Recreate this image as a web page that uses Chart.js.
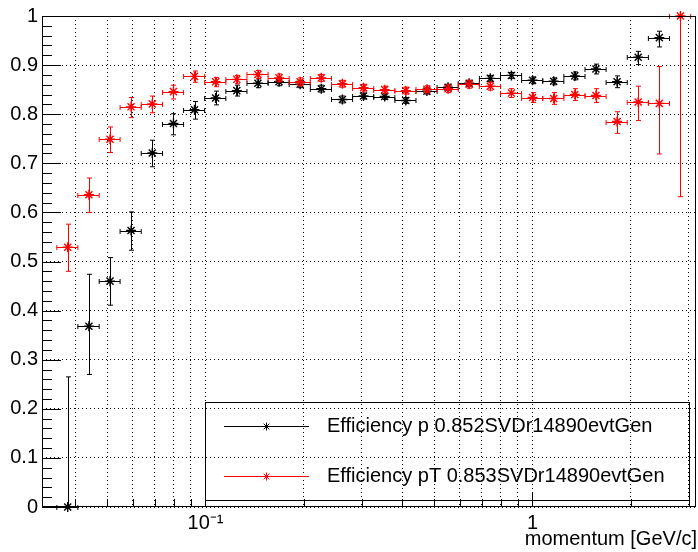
<!DOCTYPE html>
<html>
<head>
<meta charset="utf-8">
<script src="https://cdn.jsdelivr.net/npm/chart.js@4"></script>
<style>
  html, body { margin: 0; padding: 0; background: #fff; }
  canvas { display: block; }
</style>
</head>
<body>
<canvas id="effChart" width="698" height="552"></canvas>
<script>
// bin edges in momentum [GeV/c] (log binning, 30 bins)
const binEdges = [0.0351, 0.0407, 0.0473, 0.0548, 0.0636, 0.0739, 0.0857, 0.0994, 0.1154, 0.1339,
  0.1554, 0.1803, 0.2092, 0.2428, 0.2817, 0.3269, 0.3794, 0.4402, 0.5108, 0.5928,
  0.6879, 0.7982, 0.9262, 1.0748, 1.2472, 1.4473, 1.6794, 1.9488, 2.2614, 2.6241, 3.0450];

// efficiency vs p
const effP = [0.000, 0.368, 0.460, 0.563, 0.721, 0.781, 0.809, 0.833, 0.848, 0.863,
  0.866, 0.861, 0.852, 0.830, 0.837, 0.836, 0.828, 0.847, 0.855, 0.863,
  0.873, 0.879, 0.869, 0.867, 0.878, 0.892, 0.866, 0.916, 0.956, null];
const effPErrLow = [0.000, 0.098, 0.049, 0.040, 0.028, 0.023, 0.019, 0.014, 0.011, 0.009,
  0.008, 0.007, 0.007, 0.007, 0.006, 0.006, 0.006, 0.006, 0.006, 0.006,
  0.006, 0.006, 0.007, 0.007, 0.008, 0.010, 0.012, 0.015, 0.019, null];
const effPErrHigh = [0.265, 0.106, 0.048, 0.038, 0.026, 0.020, 0.017, 0.014, 0.011, 0.009,
  0.008, 0.007, 0.007, 0.007, 0.006, 0.006, 0.006, 0.006, 0.006, 0.006,
  0.006, 0.006, 0.007, 0.007, 0.008, 0.010, 0.012, 0.012, 0.013, null];

// efficiency vs pT
const effPt = [0.529, 0.636, 0.749, 0.815, 0.821, 0.846, 0.877, 0.866, 0.871, 0.881,
  0.874, 0.866, 0.874, 0.862, 0.854, 0.850, 0.848, 0.851, 0.852, 0.861,
  0.857, 0.843, 0.834, 0.832, 0.840, 0.838, 0.785, 0.825, 0.822, 1.000];
const effPtErrLow = [0.049, 0.036, 0.027, 0.022, 0.018, 0.015, 0.012, 0.010, 0.009, 0.008,
  0.008, 0.008, 0.007, 0.007, 0.007, 0.007, 0.007, 0.007, 0.008, 0.008,
  0.008, 0.009, 0.010, 0.012, 0.012, 0.014, 0.024, 0.038, 0.103, 0.368];
const effPtErrHigh = [0.047, 0.034, 0.025, 0.019, 0.016, 0.013, 0.011, 0.009, 0.008, 0.008,
  0.008, 0.008, 0.007, 0.007, 0.007, 0.007, 0.007, 0.007, 0.008, 0.008,
  0.008, 0.009, 0.010, 0.012, 0.012, 0.014, 0.020, 0.032, 0.075, 0.000];

const xTickValues = [0.04, 0.05, 0.06, 0.07, 0.08, 0.09, 0.1, 0.2, 0.3, 0.4, 0.5, 0.6, 0.7, 0.8, 0.9, 1, 2, 3];
const xTickLabels = { 0.1: '10\u207B\u00B9', 1: '1' };
const yTickValues = [0, 0.1, 0.2, 0.3, 0.4, 0.5, 0.6, 0.7, 0.8, 0.9, 1];

const xTitle = 'momentum [GeV/c]';
const labelP = 'Efficiency p 0.852SVDr14890evtGen';
const labelPt = 'Efficiency pT 0.853SVDr14890evtGen';

const FONT = "'Liberation Sans', Arial, Helvetica, sans-serif";

function makePoints(vals, lo, hi) {
  const pts = [];
  vals.forEach((v, i) => {
    if (v === null) return;
    const a = binEdges[i], b = binEdges[i + 1];
    pts.push({ x: (a + b) / 2, y: v, xlo: a, xhi: b, el: lo[i], eh: hi[i] });
  });
  return pts;
}

// error bars (drawn just before each dataset's markers) + ROOT style frame, ticks, legend
const rootStyle = {
  id: 'rootStyle',
  beforeDatasetDraw(chart, args) {
    const ds = chart.data.datasets[args.index];
    const xs = chart.scales.x, ys = chart.scales.y;
    const ctx = chart.ctx;
    const cap = 2.5;
    ctx.save();
    ctx.strokeStyle = ds.borderColor;
    ctx.lineWidth = 1;
    ds.data.forEach(p => {
      const px = Math.round(xs.getPixelForValue(p.x)) + 0.5;
      const py = Math.round(ys.getPixelForValue(p.y)) + 0.5;
      const x1 = xs.getPixelForValue(p.xlo), x2 = xs.getPixelForValue(p.xhi);
      const y1 = ys.getPixelForValue(p.y - p.el), y2 = ys.getPixelForValue(p.y + p.eh);
      ctx.beginPath();
      ctx.moveTo(x1, py); ctx.lineTo(x2, py);
      ctx.moveTo(x1, py - cap); ctx.lineTo(x1, py + cap);
      ctx.moveTo(x2, py - cap); ctx.lineTo(x2, py + cap);
      if (p.el > 0 || p.eh > 0) {
        ctx.moveTo(px, y1); ctx.lineTo(px, y2);
        if (p.el > 0) { ctx.moveTo(px - cap, y1); ctx.lineTo(px + cap, y1); }
        if (p.eh > 0) { ctx.moveTo(px - cap, y2); ctx.lineTo(px + cap, y2); }
      }
      ctx.stroke();
    });
    ctx.restore();
  },
  afterDraw(chart) {
    const ctx = chart.ctx;
    const a = chart.chartArea;
    const xs = chart.scales.x, ys = chart.scales.y;
    ctx.save();
    ctx.strokeStyle = '#000';
    ctx.lineWidth = 1;
    // frame
    ctx.strokeRect(a.left + 0.5, a.top + 0.5, a.right - a.left - 1, a.bottom - a.top - 1);
    // y ticks (inside): majors every 0.1, minors every 0.02
    ctx.beginPath();
    for (let k = 0; k <= 50; k++) {
      const y = Math.round(ys.getPixelForValue(k / 50)) + 0.5;
      const len = k % 5 === 0 ? 19 : 10;
      ctx.moveTo(a.left, y); ctx.lineTo(a.left + len, y);
    }
    // x ticks (inside)
    xTickValues.forEach(v => {
      const x = Math.round(xs.getPixelForValue(v)) + 0.5;
      const len = (v === 0.1 || v === 1) ? 15 : 8;
      ctx.moveTo(x, a.bottom); ctx.lineTo(x, a.bottom - len);
    });
    ctx.stroke();

    // x axis title, right aligned under the frame
    ctx.fillStyle = '#000';
    ctx.font = '20px ' + FONT;
    ctx.textAlign = 'right';
    ctx.textBaseline = 'middle';
    ctx.fillText(xTitle, a.right + 1, 539);

    // legend (transparent box)
    const lx1 = 224, lx2 = 309, mx = 266.5, tx = 327;
    ctx.strokeRect(205.5, 402.5, 484, 98);
    const rows = [
      { ds: chart.data.datasets[1], y: 426.5 },
      { ds: chart.data.datasets[0], y: 476.5 }
    ];
    rows.forEach(r => {
      ctx.strokeStyle = r.ds.borderColor;
      ctx.beginPath();
      ctx.moveTo(lx1, r.y); ctx.lineTo(lx2, r.y);
      ctx.stroke();
      Chart.helpers.drawPoint(ctx, { pointStyle: 'star', radius: 4, borderWidth: 1 }, mx, r.y);
      ctx.fillStyle = '#000';
      ctx.font = '20px ' + FONT;
      ctx.textBaseline = 'middle';
      ctx.textAlign = 'left';
      ctx.fillText(r.ds.label, tx, r.y);
    });
    ctx.restore();
  }
};

const ctx = document.getElementById('effChart').getContext('2d');
const effChart = new Chart(ctx, {
  type: 'scatter',
  data: {
    datasets: [
      {
        label: labelPt,
        data: makePoints(effPt, effPtErrLow, effPtErrHigh),
        borderColor: 'rgb(255,0,0)',
        backgroundColor: 'rgb(255,0,0)',
        pointStyle: 'star',
        pointRadius: 5,
        pointBorderWidth: 1.4,
        clip: false,
        order: 0
      },
      {
        label: labelP,
        data: makePoints(effP, effPErrLow, effPErrHigh),
        borderColor: '#000',
        backgroundColor: '#000',
        pointStyle: 'star',
        pointRadius: 5,
        pointBorderWidth: 1.4,
        clip: false,
        order: 1
      }
    ]
  },
  options: {
    responsive: false,
    animation: false,
    events: [],
    layout: { autoPadding: false, padding: { top: 12, right: 2, left: 0, bottom: 0 } },
    plugins: {
      legend: { display: false },
      tooltip: { enabled: false }
    },
    scales: {
      x: {
        type: 'logarithmic',
        min: 0.031623,
        max: 3.1623,
        afterBuildTicks: s => { s.ticks = xTickValues.map(v => ({ value: v })); },
        afterFit: s => { s.height = 45; },
        ticks: {
          autoSkip: false,
          maxRotation: 0,
          minRotation: 0,
          padding: 4,
          color: '#000',
          font: { family: FONT, size: 20 },
          callback: v => xTickLabels[v] || ''
        },
        grid: { color: '#000', lineWidth: 1, drawTicks: false },
        border: { display: false, dash: [1, 3] }
      },
      y: {
        type: 'linear',
        min: 0,
        max: 1,
        afterBuildTicks: s => { s.ticks = yTickValues.map(v => ({ value: v })); },
        afterFit: s => { s.width = 42; },
        ticks: {
          padding: 4,
          color: '#000',
          font: { family: FONT, size: 20 },
          callback: v => (v === 0 ? '0' : v === 1 ? '1' : v.toFixed(1))
        },
        grid: { color: '#000', lineWidth: 1, drawTicks: false },
        border: { display: false, dash: [1, 3] }
      }
    }
  },
  plugins: [rootStyle]
});
</script>
</body>
</html>
